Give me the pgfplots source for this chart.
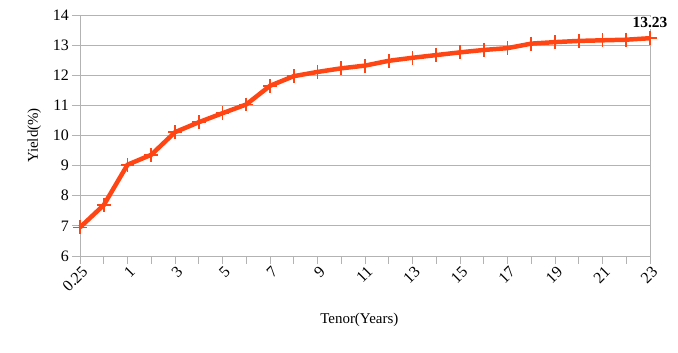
\documentclass[border=0pt]{standalone}
\usepackage{pgfplots}
\pgfplotsset{compat=1.18}
\usepackage{fontspec}
\setmainfont{Liberation Serif}
\definecolor{lineC}{HTML}{FF4514}
\definecolor{gridC}{HTML}{B3B3B3}
\begin{document}
\begin{tikzpicture}
\useasboundingbox (-80bp,-97bp) rectangle (598bp,256bp);
\begin{axis}[
  at={(0,0)}, anchor=south west,
  scale only axis,
  width=570bp, height=241bp,
  xmin=0, xmax=24, ymin=6, ymax=14,
  xtick={0,2,...,24},
  minor xtick={1,3,...,23},
  xticklabels={0.25,1,3,5,7,9,11,13,15,17,19,21,23},
  ytick={6,...,14},
  ymajorgrids,
  grid style={gridC, line width=0.8pt},
  axis line style={gridC, line width=0.8pt},
  tick style={gridC, line width=0.8pt},
  minor tick style={gridC, line width=0.8pt},
  tick align=outside,
  major tick length=8bp,
  minor tick length=8bp,
  xtick pos=bottom, ytick pos=left,
  /pgf/number format/assume math mode=true,
  tick label style={font=\fontsize{16}{19}\selectfont},
  xticklabel style={rotate=45, anchor=east, inner sep=1pt, yshift=-7bp, xshift=1bp},
  yticklabel style={inner sep=3pt},
  label style={font=\fontsize{15}{18}\selectfont},
  xlabel={Tenor(Years)},
  ylabel={Yield(\%)},
  xlabel style={at={(axis description cs:0.49,-0.266)}, anchor=center},
  ylabel style={at={(axis description cs:-0.08,0.5)}, anchor=center},
  clip=false,
]
\addplot[lineC, line width=4.5pt, mark=+, mark size=7pt, mark options={line width=1.6pt}] coordinates {
(0,6.95) (1,7.69) (2,9.03) (3,9.36) (4,10.11) (5,10.44) (6,10.74) (7,11.03)
(8,11.65) (9,11.97) (10,12.11) (11,12.23) (12,12.32) (13,12.48) (14,12.58)
(15,12.67) (16,12.76) (17,12.84) (18,12.90) (19,13.05) (20,13.10) (21,13.14)
(22,13.16) (23,13.18) (24,13.23)
};
\node[font=\bfseries\fontsize{15.5}{18}\selectfont, fill=white, inner sep=1pt, anchor=south] at (axis cs:24,13.23) [yshift=9bp] {13.23};
\end{axis}
\end{tikzpicture}
\end{document}
